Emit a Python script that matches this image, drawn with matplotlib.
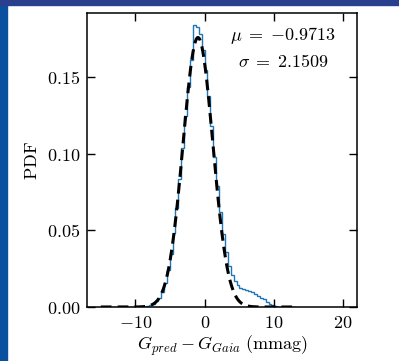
import numpy as np
import matplotlib
matplotlib.use("Agg")
import matplotlib.pyplot as plt
from matplotlib.patches import Rectangle
from matplotlib.ticker import FuncFormatter

plt.rcParams['mathtext.fontset'] = 'cm'
plt.rcParams['font.family'] = 'DejaVu Serif'

# histogram (density)
bin_lo = -15.14
bin_w = 0.42
heights = [0.0001, 0.0001, 0.0, 0.0001, 0.0001, 0.0001, 0.0001, 0.0002, 0.0001, 0.0002,
           0.0001, 0.0002, 0.0001, 0.0001, 0.0002, 0.0003, 0.0006, 0.0012, 0.0021, 0.0037,
           0.0062, 0.0101, 0.0158, 0.0239, 0.0346, 0.0482, 0.0648, 0.0838, 0.104, 0.125,
           0.144, 0.161, 0.184, 0.183, 0.178, 0.168, 0.155, 0.138, 0.118, 0.098,
           0.079, 0.062, 0.048, 0.036, 0.027, 0.021, 0.017, 0.0145, 0.0125, 0.012,
           0.011, 0.0105, 0.0095, 0.0085, 0.0075, 0.0062, 0.0050, 0.0035, 0.0022, 0.0010,
           0.0006, 0.0003, 0.0002, 0.0001, 0.0001, 0.0001, 0.0001]

# gaussian model
mu = -0.9713
sigma = 2.1509
peak = 0.176

edges = bin_lo + bin_w * np.arange(len(heights) + 1)

fig = plt.figure(figsize=(3.99, 3.61), dpi=100)
fig.patches.append(Rectangle((0, 0), 7 / 399, 1, transform=fig.transFigure, color='#0b4f9f', zorder=0))
fig.patches.append(Rectangle((0, 356 / 361), 1, 5 / 361, transform=fig.transFigure, color='#2a3f8d', zorder=0))

ax = fig.add_axes([87 / 399, 54 / 361, 270 / 399, 294 / 361])
ax.stairs(heights, edges, color='#1f77b4', lw=1.0)

xs = np.linspace(-15, 13, 400)
ax.plot(xs, peak * np.exp(-(xs - mu) ** 2 / (2 * sigma ** 2)), color='black', lw=2.2, ls=(0, (3.5, 2)))

ax.set_xlim(-17, 22)
ax.set_ylim(0, 0.192)
ax.set_xticks([-10, 0, 10, 20])
ax.set_yticks([0, 0.05, 0.10, 0.15])
ax.xaxis.set_major_formatter(FuncFormatter(lambda v, p: '$%d$' % v))
ax.yaxis.set_major_formatter(FuncFormatter(lambda v, p: '$%.2f$' % v))
ax.tick_params(direction='in', top=True, right=True, length=6, width=1, labelsize=13, pad=5)
for s in ax.spines.values():
    s.set_linewidth(1.1)

ax.set_xlabel(r'$G_{pred} - G_{Gaia}\ \mathrm{(mmag)}$', fontsize=13, labelpad=1)
ax.set_ylabel(r'$\mathrm{PDF}$', fontsize=13, labelpad=4)

ax.text(0.726, 0.925, r'$\mu \;=\; {-0.9713}$', transform=ax.transAxes, ha='center', va='center', fontsize=13)
ax.text(0.726, 0.833, r'$\sigma \;=\; 2.1509$', transform=ax.transAxes, ha='center', va='center', fontsize=13)

fig.savefig('out.png', dpi=100)
